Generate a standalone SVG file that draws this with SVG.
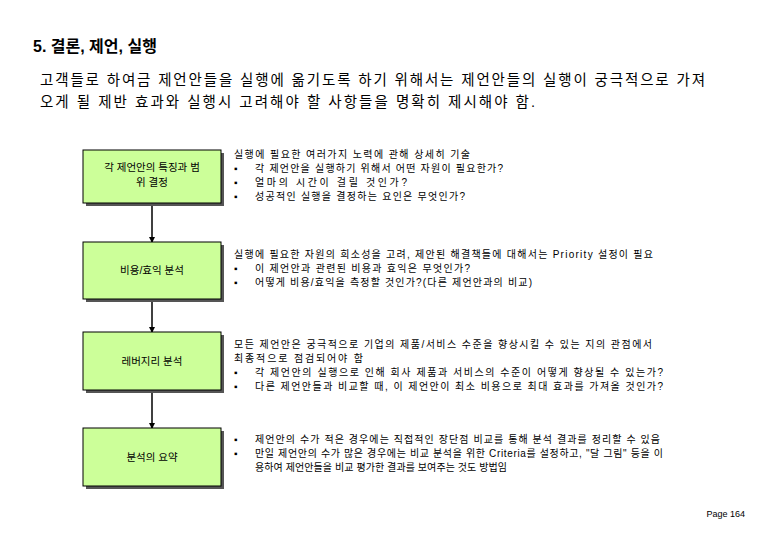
<svg xmlns="http://www.w3.org/2000/svg" width="780" height="540" viewBox="0 0 780 540">
<style>
text{font-family:"Liberation Sans","Noto Sans CJK KR",sans-serif;fill:#000}
.box{fill:#ccff99;stroke:#000;stroke-width:1}
.sh{fill:#555}
.bl{font-size:10.5px;text-anchor:middle}
.d{font-size:10px}
.c{stroke:#000;stroke-width:1.5;fill:none}
</style>
<defs><marker id="ah" markerWidth="6" markerHeight="6" refX="5" refY="3" orient="auto" markerUnits="userSpaceOnUse"><path d="M0,0L6,3L0,6z" fill="#000"/></marker></defs>
<rect width="780" height="540" fill="#fff"/>
<text x="33" y="52" font-size="16" font-weight="bold">5. 결론, 제언, 실행</text>
<text x="40" y="85" font-size="14.5" textLength="665" lengthAdjust="spacing">고객들로 하여금 제언안들을 실행에 옮기도록 하기 위해서는 제언안들의 실행이 궁극적으로 가져</text>
<text x="40" y="107" font-size="14.5" textLength="495" lengthAdjust="spacing">오게 될 제반 효과와 실행시 고려해야 할 사항들을 명확히 제시해야 함.</text>
<g id="connectors">
<line class="c" x1="152" y1="205" x2="152" y2="242" marker-end="url(#ah)"/>
<line class="c" x1="152" y1="302" x2="152" y2="332" marker-end="url(#ah)"/>
<line class="c" x1="152" y1="393" x2="152" y2="428" marker-end="url(#ah)"/>
</g>
<g id="n1"><rect class="sh" x="86" y="153" width="138" height="53"/><rect class="box" x="83" y="150" width="138" height="53"/><text class="bl" x="152" y="171">각 제언안의 특징과 범</text><text class="bl" x="152" y="186">위 결정</text></g>
<g id="n2"><rect class="sh" x="86" y="245" width="138" height="57"/><rect class="box" x="83" y="242" width="138" height="57"/><text class="bl" x="152" y="274">비용/효익 분석</text></g>
<g id="n3"><rect class="sh" x="86" y="335" width="138" height="58"/><rect class="box" x="83" y="332" width="138" height="58"/><text class="bl" x="152" y="365">레버지리 분석</text></g>
<g id="n4"><rect class="sh" x="86" y="431" width="138" height="58"/><rect class="box" x="83" y="428" width="138" height="58"/><text class="bl" x="152" y="461">분석의 요약</text></g>
<g id="t1">
<text class="d" x="234" y="158" textLength="236" lengthAdjust="spacing">실행에 필요한 여러가지 노력에 관해 상세히 기술</text>
<text class="d" x="234" y="172">▪</text><text class="d" x="255" y="172" textLength="248" lengthAdjust="spacing">각 제언안을 실행하기 위해서 어떤 자원이 필요한가?</text>
<text class="d" x="234" y="186">▪</text><text class="d" x="255" y="186" textLength="152" lengthAdjust="spacing">얼마의 시간이 걸릴 것인가?</text>
<text class="d" x="234" y="200">▪</text><text class="d" x="255" y="200" textLength="210" lengthAdjust="spacing">성공적인 실행을 결정하는 요인은 무엇인가?</text>
</g>
<g id="t2">
<text class="d" x="234" y="258" textLength="419" lengthAdjust="spacing">실행에 필요한 자원의 희소성을 고려, 제안된 해결책들에 대해서는 Priority 설정이 필요</text>
<text class="d" x="234" y="272">▪</text><text class="d" x="255" y="272" textLength="215" lengthAdjust="spacing">이 제언안과 관련된 비용과 효익은 무엇인가?</text>
<text class="d" x="234" y="286">▪</text><text class="d" x="255" y="286" textLength="277" lengthAdjust="spacing">어떻게 비용/효익을 측정할 것인가?(다른 제언안과의 비교)</text>
</g>
<g id="t3">
<text class="d" x="234" y="348" textLength="418" lengthAdjust="spacing">모든 제언안은 궁극적으로 기업의 제품/서비스 수준을 향상시킬 수 있는 지의 관점에서</text>
<text class="d" x="234" y="362" textLength="129" lengthAdjust="spacing">최종적으로 점검되어야 함</text>
<text class="d" x="234" y="376">▪</text><text class="d" x="255" y="376" textLength="408" lengthAdjust="spacing">각 제언안의 실행으로 인해 회사 제품과 서비스의 수준이 어떻게 향상될 수 있는가?</text>
<text class="d" x="234" y="390">▪</text><text class="d" x="255" y="390" textLength="408" lengthAdjust="spacing">다른 제언안들과 비교할 때, 이 제언안이 최소 비용으로 최대 효과를 가져올 것인가?</text>
</g>
<g id="t4">
<text class="d" x="234" y="443">▪</text><text class="d" x="255" y="443" textLength="405" lengthAdjust="spacing">제언안의 수가 적은 경우에는 직접적인 장단점 비교를 통해 분석 결과를 정리할 수 있음</text>
<text class="d" x="234" y="457">▪</text><text class="d" x="255" y="457" textLength="408" lengthAdjust="spacing">만일 제언안의 수가 많은 경우에는 비교 분석을 위한 Criteria를 설정하고, "달 그림" 등을 이</text>
<text class="d" x="255" y="471" textLength="252" lengthAdjust="spacing">용하여 제언안들을 비교 평가한 결과를 보여주는 것도 방법임</text>
</g>
<text x="745" y="517" font-size="9" text-anchor="end">Page 164</text>
</svg>
